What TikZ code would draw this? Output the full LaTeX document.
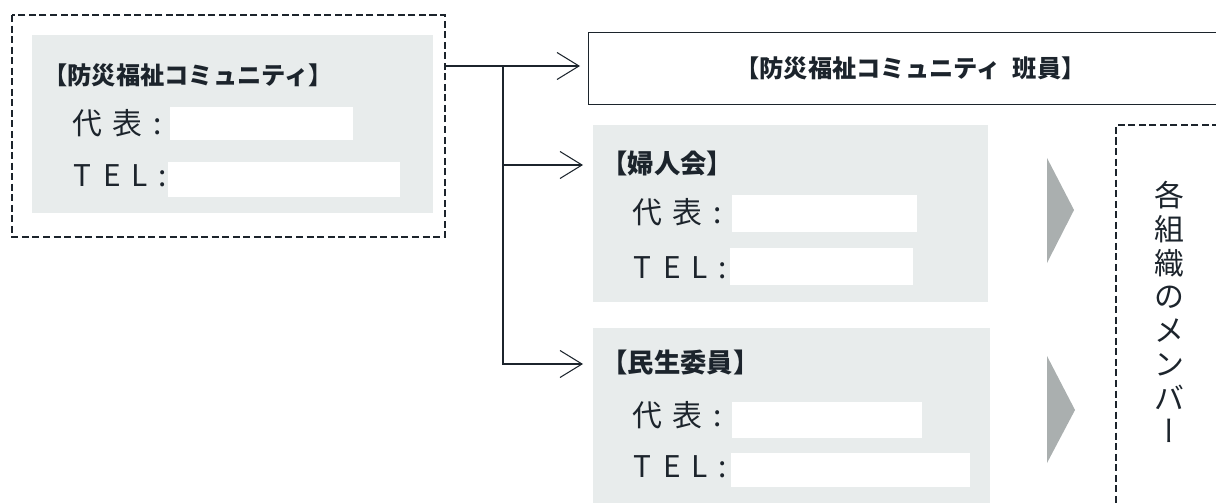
\documentclass[tikz,border=0pt]{standalone}
\usepackage{fontspec}
\setmainfont{Noto Sans CJK JP}
\newfontfamily\tatefont[RawFeature=+vert]{Noto Sans CJK JP}
\usetikzlibrary{arrows.meta,positioning}
\definecolor{ink}{RGB}{28,36,44}
\definecolor{screen}{RGB}{232,236,236}
\definecolor{wedge}{RGB}{170,175,175}

\begin{document}
\begin{tikzpicture} [x=0.02cm,y=-0.02cm,
    frame/.style={draw=ink,line width=0.6pt,dash pattern=on 4pt off 2pt},
    panel/.style={fill=screen},
    blank/.style={fill=white},
    heading/.style={anchor=west,inner sep=0pt,text=ink,font=\bfseries\fontsize{15}{17}\selectfont},
    entry/.style={anchor=west,inner sep=0pt,text=ink,font=\fontsize{17}{19}\selectfont},
    link/.style={draw=ink,line width=0.6pt,-{Straight Barb[length=0.44cm,width=0.54cm]}}]
  \useasboundingbox (0,0) rectangle (1216,503);
  % community block
  \draw [frame] (12,15) rectangle (445,237); % dashed outline
  \fill [panel] (32,35) rectangle (433,213);
  \node [heading,font=\bfseries\fontsize{13.8}{15}\selectfont] (lead) at (43,75) {【防災福祉コミュニティ】};
  \node [entry] (leadrep) at (72,123) {代\hspace{6pt}表\hspace{6pt}:};
  \node [entry] (leadtel) at (73,176) {T\hspace{7pt}E\hspace{6pt}L\hspace{6pt}:};
  \fill [blank] (170,107) rectangle (353,140);
  \fill [blank] (168,162) rectangle (400,197);
  \coordinate (src) at (445,66);
  \coordinate (fork) at (503,66);
  % crew box
  \node [draw=ink,line width=0.6pt,anchor=north west,minimum width=12.88cm,minimum height=1.44cm,
         text=ink,font=\bfseries\fontsize{13.8}{15}\selectfont] (crew) at (588,32) {【防災福祉コミュニティ\hspace{0.5em}班員】};
  % women's association
  \fill [panel] (593,125) rectangle (988,302);
  \node [heading] (wives) at (601,163) {【婦人会】};
  \node [entry] (wivesrep) at (632,212) {代\hspace{6pt}表\hspace{6pt}:};
  \node [entry] (wivestel) at (633,268) {T\hspace{7pt}E\hspace{6pt}L\hspace{6pt}:};
  \fill [blank] (732,195) rectangle (917,232);
  \fill [blank] (730,248) rectangle (913,285);
  \coordinate (wivesin) at (583,165);
  % welfare commissioners
  \fill [panel] (593,328) rectangle (990,520);
  \node [heading] (welfare) at (601,363) {【民生委員】};
  \node [entry] (welfarerep) at (632,415) {代\hspace{6pt}表\hspace{6pt}:};
  \node [entry] (welfaretel) at (633,467) {T\hspace{7pt}E\hspace{6pt}L\hspace{6pt}:};
  \fill [blank] (732,402) rectangle (922,438);
  \fill [blank] (731,453) rectangle (970,487);
  \coordinate (welfarein) at (583,364);
  % connectors
  \draw [link,shorten >=0.16cm] (src) -- (crew.west |- src);
  \draw [link] (fork) |- (wivesin);
  \draw [link] (fork) |- (welfarein);
  % grey wedges
  \fill [wedge] (1047,158) -- (1074,210) -- (1047,263) -- cycle;
  \fill [wedge] (1047,356) -- (1075,410) -- (1047,463) -- cycle;
  % members column
  \draw [frame] (1230,125) -- (1116,125) -- (1116,520); % dashed outline
  \node [entry,anchor=north,align=center,font=\fontsize{17}{19.2}\selectfont] (members) at (1169,181)
        {各\\組\\織\\の\\メ\\ン\\バ\\{\tatefont ー}};
\end{tikzpicture}
\end{document}
